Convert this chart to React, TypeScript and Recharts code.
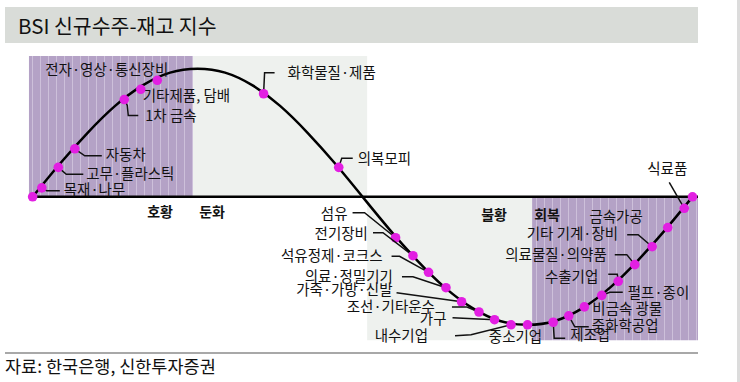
import React from 'react';
import { ComposedChart, Line, Scatter, XAxis, YAxis, ReferenceArea, ReferenceLine } from 'recharts';

// 경기 사이클 곡선 (위상, 지수)
const cyclePhase = [0, 15, 30, 45, 60, 75, 90, 105, 120, 135, 150, 165, 180, 195, 210, 225, 240, 255, 270, 285, 300, 315, 330, 345, 360];
const cycleIndex = [0, 26, 50, 71, 87, 97, 100, 97, 87, 71, 50, 26, 0, -26, -50, -71, -87, -97, -100, -97, -87, -71, -50, -26, 0];

// 업종별 위치
const sectors = ['', '목재·나무', '고무·플라스틱', '자동차', '1차 금속', '기타제품, 담배', '전자·영상·통신장비', '화학물질·제품', '의복모피', '섬유', '전기장비', '석유정제·코크스', '의료·정밀기기', '가죽·가방·신발', '조선·기타운수', '가구', '내수기업', '중소기업', '제조업', '중화학공업', '비금속 광물', '펄프·종이', '수출기업', '의료물질·의약품', '기타 기계·장비', '금속가공', '식료품', ' '];
const sectorPhase = [0, 5, 14, 23, 50, 59, 68, 126, 167, 198, 207.5, 216, 225.5, 234, 243.5, 252, 261, 270, 284, 292.5, 301, 310.5, 319.5, 328.5, 338, 346.5, 355.5, 360];
const sectorIndex = [0, 7, 23, 37.5, 76, 84, 91, 80.5, 23, -32, -46, -59, -71, -82, -90, -96, -100, -100, -98, -93, -86, -77, -66, -53, -39, -24, -9, 0];

const phaseNames = ['호황', '둔화', '불황', '회복'];
const phaseFrom = [-2, 87.5, 182.5, 272.5];
const phaseTo = [87.5, 182.5, 272.5, 363];
const phaseUpper = [true, true, false, false];

const curve = cyclePhase.map((x, i) => ({ x, y: cycleIndex[i] }));
const points = sectors.map((name, i) => ({ name, x: sectorPhase[i], y: sectorIndex[i] }));

const FONT = '"Noto Sans CJK KR", "Noto Sans", sans-serif';
const PURPLE_FILL = 'url(#stripes)';
const LIGHT_FILL = '#eef1ee';
const Y_TOP = 110;
const Y_BAND_BOTTOM = -112;

type Lay = { leader?: number[][]; dx: number; dy: number; anchor: 'start' | 'middle' | 'end' };

// label placement relative to each marker (px)
const labelLayout: Record<string, Lay> = {
  '목재·나무': { leader: [[0, 0], [5, 3], [18, 3]], dx: 22, dy: 1, anchor: 'start' },
  '고무·플라스틱': { leader: [[0, 0], [8, 7], [25, 7]], dx: 28, dy: 5, anchor: 'start' },
  '자동차': { leader: [[0, 0], [10, 7], [27, 7]], dx: 31, dy: 5, anchor: 'start' },
  '1차 금속': { leader: [[0, 0], [3, 6], [4, 16], [14, 16]], dx: 21, dy: 15, anchor: 'start' },
  '기타제품, 담배': { dx: 2, dy: 5, anchor: 'start' },
  '전자·영상·통신장비': { dx: 11, dy: -12, anchor: 'end' },
  '화학물질·제품': { leader: [[0, 0], [1, -21], [11, -21]], dx: 24, dy: -22, anchor: 'start' },
  '의복모피': { leader: [[0, 0], [3, -9], [14, -9]], dx: 19, dy: -10, anchor: 'start' },
  '섬유': { leader: [[0, 0], [-31, -25], [-43, -25]], dx: -48, dy: -25, anchor: 'end' },
  '전기장비': { leader: [[0, 0], [-30, -23], [-40, -23]], dx: -45, dy: -23, anchor: 'end' },
  '석유정제·코크스': { leader: [[0, 0], [-29, -16], [-37, -16]], dx: -46, dy: -18, anchor: 'end' },
  '의료·정밀기기': { leader: [[0, 0], [-33, -11], [-44, -11]], dx: -53, dy: -12, anchor: 'end' },
  '가죽·가방·신발': { leader: [[0, 0], [-65, -9]], dx: -69, dy: -13, anchor: 'end' },
  '조선·기타운수': { leader: [[0, 0], [-12, -5], [-27, -5]], dx: -44, dy: -7, anchor: 'end' },
  '가구': { leader: [[0, 0], [-42, -2]], dx: -48, dy: -2, anchor: 'end' },
  '내수기업': { leader: [[0, 0], [-40, 10], [-56, 11]], dx: -83, dy: 10, anchor: 'end' },
  '중소기업': { dx: -12, dy: 11, anchor: 'middle' },
  '제조업': { leader: [[0, 0], [1, 16], [12, 16]], dx: 17, dy: 11, anchor: 'start' },
  '중화학공업': { leader: [[0, 0], [6, 11], [20, 11]], dx: 23, dy: 9, anchor: 'start' },
  '비금속 광물': { dx: 8, dy: 1, anchor: 'start' },
  '펄프·종이': { leader: [[0, 0], [8, -3], [21, -3]], dx: 26, dy: -4, anchor: 'start' },
  '수출기업': { leader: [[0, 0], [-1, -7], [-10, -7]], dx: -20, dy: -6, anchor: 'end' },
  '의료물질·의약품': { leader: [[0, 0], [-8, -10], [-20, -10]], dx: -28, dy: -11, anchor: 'end' },
  '기타 기계·장비': { leader: [[0, 0], [-14, -12], [-25, -12]], dx: -34, dy: -14, anchor: 'end' },
  '금속가공': { dx: -25, dy: -12, anchor: 'end' },
  '식료품': { leader: [[0, 0], [-15, -26]], dx: -17, dy: -41, anchor: 'middle' },
};

// phase label placement inside its band
const phaseLabelPos = [
  (v: any) => ({ x: v.x + v.width - 33, y: v.y + v.height + 14 }),
  (v: any) => ({ x: v.x + 19, y: v.y + v.height + 14 }),
  (v: any) => ({ x: v.x + v.width - 38, y: v.y + 17 }),
  (v: any) => ({ x: v.x + 15, y: v.y + 17 }),
];

const SectorMark = (props: any) => {
  const { cx, cy, payload } = props;
  const lay = labelLayout[payload.name];
  return (
    <g>
      {lay && lay.leader && (
        <polyline
          points={lay.leader.map(([x, y]) => `${cx + x},${cy + y}`).join(' ')}
          fill="none"
          stroke="#111"
          strokeWidth={1.5}
        />
      )}
      {lay && (
        <text
          x={cx + lay.dx}
          y={cy + lay.dy}
          textAnchor={lay.anchor}
          dominantBaseline="central"
          fontSize={14.5}
          fontFamily={FONT}
          fill="#111"
        >
          {payload.name}
        </text>
      )}
      <circle cx={cx} cy={cy} r={4.8} fill="#e21fe2" />
    </g>
  );
};

export default function App() {
  return (
    <div style={{ position: 'relative', width: 740, height: 382, background: '#fff', fontFamily: FONT, overflow: 'hidden' }}>
      <style>{'body{margin:0}'}</style>
      <div style={{ position: 'absolute', left: 5, top: 7, width: 693, height: 36, background: '#d9dcd8' }} />
      <div style={{ position: 'absolute', left: 18, top: 7, height: 36, lineHeight: '36px', fontSize: 20.5, color: '#111' }}>
        BSI 신규수주-재고 지수
      </div>
      <div style={{ position: 'absolute', left: 737, top: 0, width: 3, height: 382, background: '#dcdcdc' }} />

      <ComposedChart width={740} height={382} margin={{ top: 56, right: 42, bottom: 6, left: 25.3 }}>
        <defs>
          <pattern id="stripes" patternUnits="userSpaceOnUse" width="8" height="10">
            <rect width="8" height="10" fill="#b4a2c6" />
            <rect x="0" width="1" height="10" fill="#cdc0da" />
          </pattern>
        </defs>
        <XAxis dataKey="x" type="number" domain={[-4, 363]} allowDataOverflow hide />
        <YAxis type="number" domain={[-140, Y_TOP]} allowDataOverflow hide />
        {phaseNames.map((name, i) => (
          <ReferenceArea
            key={name}
            x1={phaseFrom[i]}
            x2={phaseTo[i]}
            y1={phaseUpper[i] ? 0 : Y_BAND_BOTTOM}
            y2={phaseUpper[i] ? Y_TOP : 0}
            fill={i === 0 || i === 3 ? PURPLE_FILL : LIGHT_FILL}
            fillOpacity={1}
            stroke="none"
            label={(p: any) => {
              const pos = phaseLabelPos[i](p.viewBox);
              return (
                <text x={pos.x} y={pos.y} textAnchor="middle" dominantBaseline="central" fontSize={14} fontWeight="bold" fontFamily={FONT} fill="#111">
                  {name}
                </text>
              );
            }}
          />
        ))}
        <ReferenceLine segment={[{ x: 0, y: 0 }, { x: 363, y: 0 }]} stroke="#000" strokeWidth={2.5} />
        <Line data={curve} dataKey="y" type="natural" stroke="#000" strokeWidth={2.5} dot={false} isAnimationActive={false} />
        <Scatter data={points} dataKey="y" shape={SectorMark} isAnimationActive={false} />
      </ComposedChart>

      <div style={{ position: 'absolute', left: 5, top: 352, width: 693, height: 1.5, background: '#a8a8a8' }} />
      <div style={{ position: 'absolute', left: 5, top: 355, fontSize: 17.5, lineHeight: '22px', color: '#111' }}>
        자료: 한국은행, 신한투자증권
      </div>
    </div>
  );
}
